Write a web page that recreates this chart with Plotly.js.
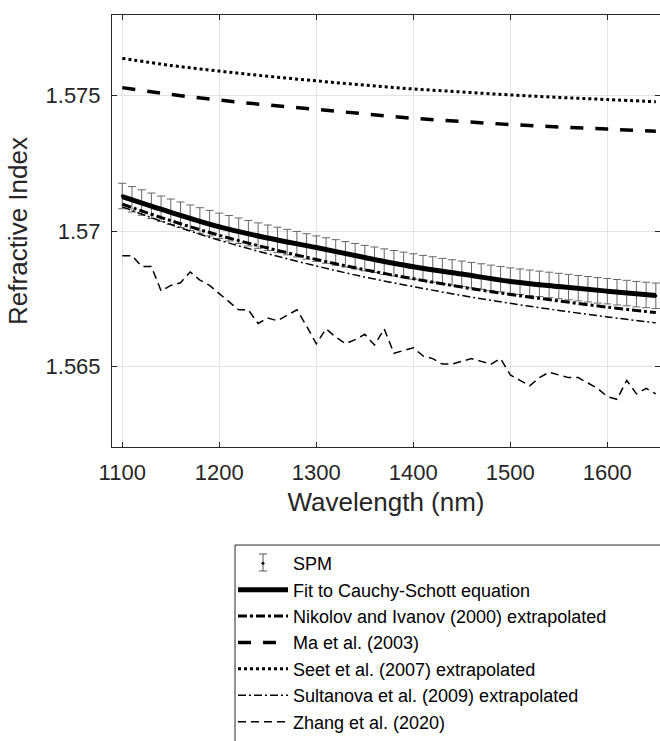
<!DOCTYPE html>
<html><head><meta charset="utf-8">
<script src="https://cdn.plot.ly/plotly-3.0.1.min.js"></script>
<style>html,body{margin:0;padding:0;background:#fff}</style>
</head><body><div id="chart" style="width:660px;height:741px"></div>
<script>
// Wavelength grids (nm)
const wl10 = [1100,1110,1120,1130,1140,1150,1160,1170,1180,1190,1200,1210,1220,1230,1240,1250,1260,1270,1280,1290,1300,1310,1320,1330,1340,1350,1360,1370,1380,1390,1400,1410,1420,1430,1440,1450,1460,1470,1480,1490,1500,1510,1520,1530,1540,1550,1560,1570,1580,1590,1600,1610,1620,1630,1640,1650];
const wl50 = [1100,1150,1200,1250,1300,1350,1400,1450,1500,1550,1600,1650];

// SPM measurements (10 nm steps) and their uncertainty
const spm = [1.57130,1.57118,1.57106,1.57094,1.57083,1.57072,1.57061,1.57050,1.57040,1.57030,1.57020,1.57011,1.57002,1.56993,1.56984,1.56976,1.56968,1.56960,1.56952,1.56944,1.56936,1.56929,1.56922,1.56915,1.56908,1.56901,1.56895,1.56888,1.56882,1.56876,1.56870,1.56864,1.56859,1.56853,1.56848,1.56843,1.56838,1.56833,1.56828,1.56823,1.56818,1.56814,1.56810,1.56806,1.56802,1.56798,1.56794,1.56790,1.56786,1.56782,1.56779,1.56775,1.56772,1.56768,1.56765,1.56762];
const spmErr = 0.00047;

// Curves (50 nm steps)
const fitCS     = [1.57128,1.57070,1.57016,1.56975,1.56940,1.56903,1.56869,1.56842,1.56815,1.56796,1.56779,1.56763];
const nikolov   = [1.57100,1.57039,1.56985,1.56938,1.56896,1.56858,1.56825,1.56794,1.56767,1.56743,1.56720,1.56700];
const ma        = [1.57530,1.57505,1.57484,1.57466,1.57450,1.57433,1.57417,1.57405,1.57394,1.57385,1.57377,1.57369];
const seet      = [1.57638,1.57612,1.57591,1.57572,1.57555,1.57539,1.57525,1.57514,1.57503,1.57494,1.57486,1.57478];
const sultanova = [1.57090,1.57025,1.56967,1.56917,1.56872,1.56831,1.56796,1.56763,1.56734,1.56708,1.56684,1.56662];

// Zhang et al. (2020), 10 nm steps
const zhang = [1.5691,1.5691,1.5687,1.5687,1.5678,1.5680,1.5681,1.5685,1.5682,1.5680,1.5677,1.5674,1.5671,1.5671,1.5666,1.5668,1.5667,1.5669,1.5671,1.5665,1.56585,1.5664,1.5661,1.56585,1.5660,1.5662,1.5658,1.5664,1.5655,1.5656,1.5657,1.5654,1.5653,1.5651,1.5651,1.5652,1.5653,1.5652,1.5651,1.5653,1.5647,1.5645,1.5643,1.5646,1.5648,1.5647,1.5646,1.5646,1.5644,1.5642,1.5639,1.5638,1.5645,1.5640,1.5642,1.5640];

const names = ['SPM','Fit to Cauchy-Schott equation','Nikolov and Ivanov (2000) extrapolated','Ma et al. (2003)','Seet et al. (2007) extrapolated','Sultanova et al. (2009) extrapolated','Zhang et al. (2020)'];

const xTicks = [1100,1200,1300,1400,1500,1600];
const yTicks = [1.565,1.57,1.575];
const yTickText = ['1.565','1.57','1.575'];

const traces = [
  {x: wl10, y: spm, name: names[0], mode: 'markers', type: 'scatter',
   marker: {color: '#000', size: 3},
   error_y: {type: 'constant', value: spmErr, color: '#666', thickness: 1, width: 4}},
  {x: wl50, y: fitCS, name: names[1], mode: 'lines', line: {color: '#000', width: 5, shape: 'spline'}},
  {x: wl50, y: nikolov, name: names[2], mode: 'lines', line: {color: '#000', width: 3, shape: 'spline', dash: '9px,3px,3px,3px'}},
  {x: wl50, y: ma, name: names[3], mode: 'lines', line: {color: '#000', width: 3.5, shape: 'spline', dash: '13px,12px'}},
  {x: wl50, y: seet, name: names[4], mode: 'lines', line: {color: '#000', width: 3, shape: 'spline', dash: '3px,3px'}},
  {x: wl50, y: sultanova, name: names[5], mode: 'lines', line: {color: '#000', width: 1.5, shape: 'spline', dash: '8px,3px,2px,3px'}},
  {x: wl10, y: zhang, name: names[6], mode: 'lines', line: {color: '#000', width: 1.5, dash: '8px,5px'}}
];

const axisCommon = {
  ticks: 'inside', ticklen: 5, tickcolor: '#262626', tickwidth: 1,
  showline: true, linecolor: '#262626', linewidth: 1, mirror: 'ticks',
  showgrid: true, gridcolor: '#e3e3e3', gridwidth: 1, zeroline: false,
  tickfont: {size: 22, color: '#262626'}, automargin: false
};

// small error-bar glyph for the SPM legend entry (legend decoration only)
const iconX = 0.2756, iconHalf = 0.0073, iconTop = -0.2477, iconBot = -0.2870;

const layout = {
  width: 660, height: 741,
  margin: {l: 112, r: 0, t: 15, b: 294, pad: 0},
  paper_bgcolor: '#fff', plot_bgcolor: '#fff',
  font: {family: 'Liberation Sans, Arial, sans-serif', color: '#262626'},
  showlegend: true,
  xaxis: Object.assign({}, axisCommon, {
    range: [1089.4, 1654.3], tickmode: 'array', tickvals: xTicks,
    ticklabelstandoff: 6,
    title: {text: 'Wavelength (nm)', font: {size: 26, color: '#262626'}, standoff: 8}
  }),
  yaxis: Object.assign({}, axisCommon, {
    range: [1.56204, 1.57798], tickmode: 'array', tickvals: yTicks, ticktext: yTickText,
    ticklabelstandoff: 6,
    title: {text: 'Refractive Index', font: {size: 26, color: '#262626'}, standoff: 10}
  }),
  legend: {
    x: 0.2208, y: -0.227, xanchor: 'left', yanchor: 'top',
    bgcolor: 'rgba(0,0,0,0)', borderwidth: 0,
    font: {size: 18, color: '#000'}, itemwidth: 50, tracegroupgap: 0
  },
  shapes: [
    {type: 'rect', xref: 'paper', yref: 'paper', x0: 0.2245, x1: 1.05, y0: -0.2269, y1: -0.70,
     line: {color: '#262626', width: 1}, fillcolor: 'rgba(0,0,0,0)', layer: 'below'},
    {type: 'line', xref: 'paper', yref: 'paper', x0: iconX, x1: iconX, y0: iconTop, y1: iconBot, line: {color: '#555', width: 1}},
    {type: 'line', xref: 'paper', yref: 'paper', x0: iconX - iconHalf, x1: iconX + iconHalf, y0: iconTop, y1: iconTop, line: {color: '#555', width: 1}},
    {type: 'line', xref: 'paper', yref: 'paper', x0: iconX - iconHalf, x1: iconX + iconHalf, y0: iconBot, y1: iconBot, line: {color: '#555', width: 1}}
  ]
};

Plotly.newPlot('chart', traces, layout, {displayModeBar: false, staticPlot: true});
</script>
</body></html>
